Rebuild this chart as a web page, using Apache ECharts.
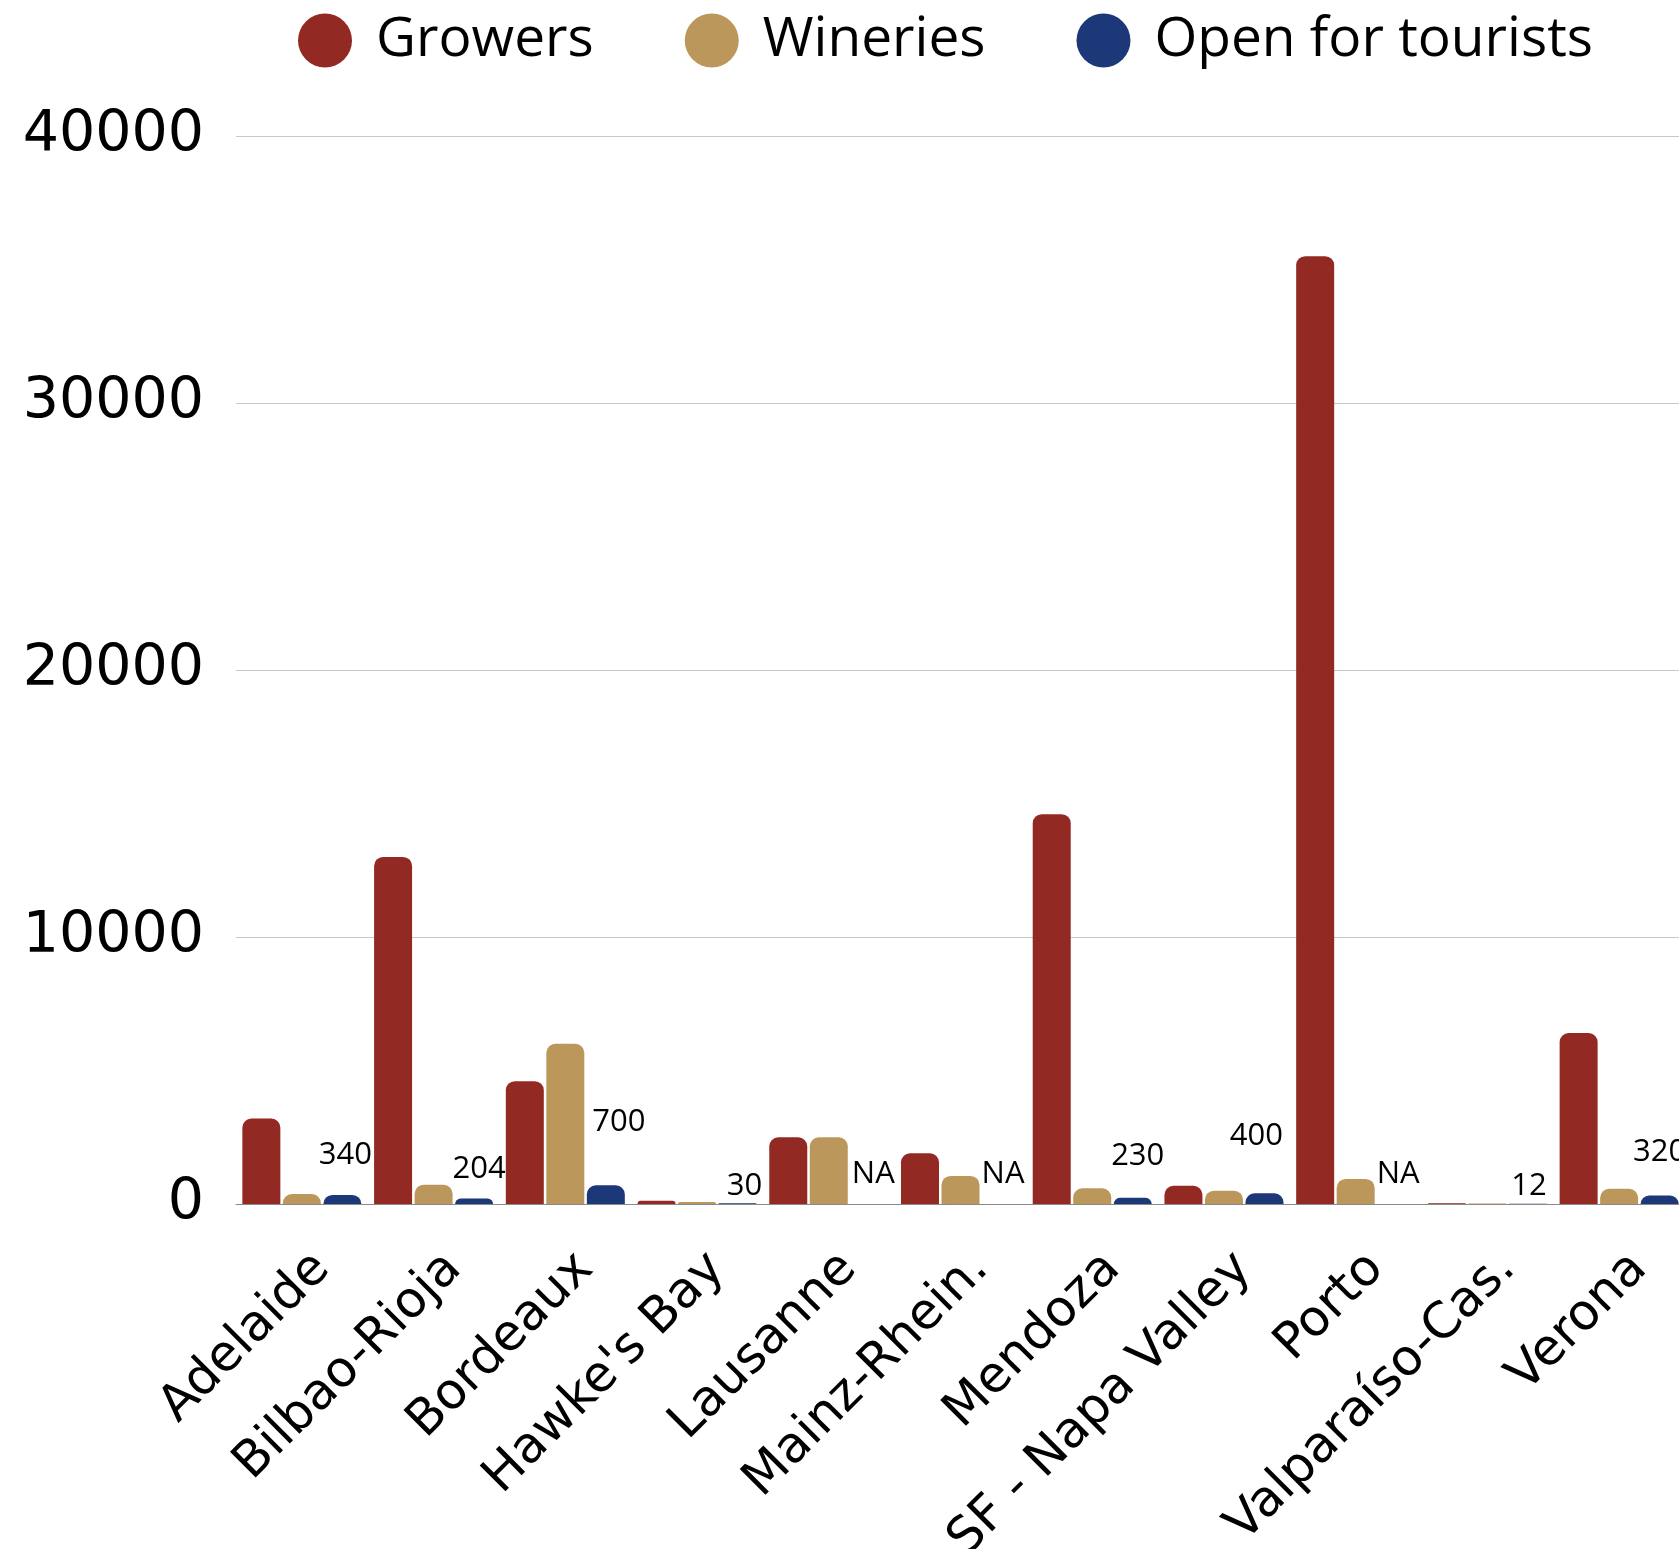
<!DOCTYPE html>
<html>
<head>
<meta charset="utf-8">
<title>Wine regions: growers, wineries and tourist openings</title>
<script src="https://cdn.jsdelivr.net/npm/echarts@6/dist/echarts.min.js"></script>
<style>
  html, body { margin: 0; padding: 0; background: #ffffff; }
  #chart { width: 1679px; height: 1549px; }
</style>
</head>
<body>
<div id="chart"></div>
<script>
// Wine regions on the category axis
const regions = ['Adelaide', 'Bilbao-Rioja', 'Bordeaux', "Hawke's Bay", 'Lausanne',
  'Mainz-Rhein.', 'Mendoza', 'SF - Napa Valley', 'Porto', 'Valparaíso-Cas.', 'Verona'];

// Number of grape growers per region
const growers = [3200, 13000, 4600, 120, 2500, 1900, 14600, 680, 35500, 30, 6400];

// Number of wineries per region
const wineries = [370, 720, 6000, 75, 2500, 1050, 590, 500, 940, 20, 570];

// Wineries open for tourists (null = not available)
const openForTourists = [340, 204, 700, 30, null, null, 230, 400, null, 12, 320];

// Value-axis ticks
const yTicks = [0, 10000, 20000, 30000, 40000];

// Lift (px above the bar) and sideways nudge of each tourist-count tag
const tagLift = [24, 14, 48, 2, 14.5, 14.5, 26, 42, 14.5, 2, 28];
const tagShift = [3, 5, 13, 7, 4, 2, 5, -8, 2, 1, 0];

const RED = '#922922';
const TAN = '#BB975B';
const BLUE = '#1D3878';

const barBase = {
  type: 'bar',
  barWidth: 38,
  barGap: '6.6%'
};

const touristData = openForTourists.map((v, i) => ({
  value: v === null ? 0 : v,
  na: v === null,
  label: {
    show: true,
    position: 'top',
    distance: tagLift[i],
    offset: [tagShift[i], 0]
  }
}));

const chart = echarts.init(document.getElementById('chart'), null, { renderer: 'canvas' });

chart.setOption({
  backgroundColor: '#ffffff',
  animation: false,
  legend: {
    left: 293,
    top: 8,
    icon: 'circle',
    itemWidth: 54,
    itemHeight: 54,
    itemGap: 91,
    textStyle: {
      fontFamily: 'Open Sans',
      fontSize: 55,
      color: '#000000',
      padding: [0, 0, 0, 19]
    },
    data: ['Growers', 'Wineries', 'Open for tourists']
  },
  grid: {
    left: 236,
    width: 1449,
    top: 136,
    bottom: 345,
    containLabel: false,
    outerBoundsMode: 'none'
  },
  xAxis: {
    type: 'category',
    data: regions,
    axisTick: { show: false },
    axisLine: { show: true, lineStyle: { color: '#8a8a8a', width: 1 } },
    axisLabel: {
      interval: 0,
      rotate: 45,
      margin: 37,
      verticalAlign: 'top',
      lineHeight: 57,
      fontFamily: 'DejaVu Sans',
      fontSize: 50,
      color: '#000000'
    }
  },
  yAxis: {
    type: 'value',
    min: yTicks[0],
    max: yTicks[yTicks.length - 1],
    interval: yTicks[1] - yTicks[0],
    axisLine: { show: false },
    axisTick: { show: false },
    splitLine: { lineStyle: { color: '#c8c8c8', width: 1 } },
    axisLabel: {
      margin: 32,
      fontFamily: 'DejaVu Sans',
      fontSize: 57,
      color: '#000000',
      formatter: v => String(v)
    }
  },
  series: [
    Object.assign({}, barBase, {
      name: 'Growers',
      data: growers,
      itemStyle: { color: RED, borderRadius: [9, 9, 0, 0] }
    }),
    Object.assign({}, barBase, {
      name: 'Wineries',
      data: wineries,
      itemStyle: { color: TAN, borderRadius: [9, 9, 0, 0] }
    }),
    Object.assign({}, barBase, {
      name: 'Open for tourists',
      data: touristData,
      itemStyle: { color: BLUE, borderRadius: [9, 9, 0, 0] },
      label: {
        show: true,
        fontFamily: 'Open Sans',
        fontSize: 31,
        color: '#000000',
        formatter: p => (p.data.na ? 'NA' : String(p.value))
      }
    })
  ]
});
</script>
</body>
</html>
